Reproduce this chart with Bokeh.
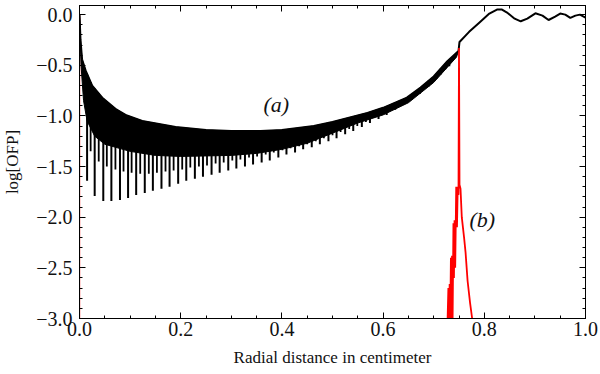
import numpy as np
from bokeh.plotting import figure
from bokeh.models import (Range1d, LinearAxis, SingleIntervalTicker, CustomJSTickFormatter, Label,
                          CustomLabelingPolicy)
from bokeh.embed import file_html
from bokeh.resources import INLINE

# ---- data ----
# upper envelope of curve (a)
env_x = [0.0, 0.002, 0.005, 0.012, 0.025, 0.045, 0.071, 0.091, 0.124, 0.157, 0.19, 0.25, 0.3,
         0.358, 0.4, 0.463, 0.5, 0.569, 0.6, 0.647, 0.674, 0.7, 0.727, 0.749, 0.751, 0.77, 0.79,
         0.81, 0.825, 0.835, 0.845, 0.86, 0.872, 0.885, 0.901, 0.915, 0.927, 0.94, 0.95, 0.96,
         0.97, 0.98, 0.989, 1.0]
env_y = [0.0, -0.25, -0.44, -0.55, -0.70, -0.82, -0.93, -0.99, -1.05, -1.08, -1.11, -1.14, -1.15,
         -1.15, -1.14, -1.10, -1.06, -0.97, -0.92, -0.82, -0.72, -0.61, -0.46, -0.36, -0.27, -0.17, -0.08,
         0.01, 0.05, 0.05, 0.02, -0.04, -0.066, -0.04, 0.013, -0.01, -0.053, -0.02, 0.01, 0.0,
         -0.033, -0.01, 0.0, -0.03]

# lower edge of the dense oscillation band of curve (a)
band_x = [0.003, 0.008, 0.015, 0.03, 0.05, 0.1, 0.15, 0.2, 0.3, 0.35, 0.4, 0.45, 0.5, 0.55,
          0.6, 0.65, 0.7, 0.745]
band_low = [-0.50, -0.85, -1.05, -1.20, -1.28, -1.35, -1.39, -1.40, -1.39, -1.37, -1.33, -1.27,
            -1.17, -1.07, -0.99, -0.87, -0.67, -0.42]

# deep minima of curve (a)
long_x = [0.015, 0.030, 0.047, 0.063, 0.080, 0.096, 0.112, 0.129, 0.145, 0.162, 0.178, 0.195,
          0.211, 0.228, 0.244, 0.261, 0.277, 0.294, 0.310, 0.327, 0.343, 0.360, 0.376, 0.393,
          0.409, 0.426, 0.442, 0.459, 0.475, 0.492, 0.508, 0.525, 0.541, 0.558, 0.574, 0.591,
          0.607, 0.624, 0.640, 0.657, 0.673, 0.690, 0.706, 0.723]
long_y = [-1.64, -1.79, -1.84, -1.84, -1.83, -1.81, -1.78, -1.76, -1.74, -1.72, -1.70, -1.67,
          -1.64, -1.62, -1.60, -1.58, -1.56, -1.54, -1.52, -1.50, -1.48, -1.46, -1.44, -1.41,
          -1.38, -1.36, -1.33, -1.31, -1.28, -1.25, -1.22, -1.18, -1.15, -1.11, -1.07, -1.03,
          -0.99, -0.94, -0.89, -0.84, -0.78, -0.71, -0.63, -0.54]
# intermediate minima of curve (a)
short_x = [0.022, 0.038, 0.054, 0.071, 0.087, 0.103, 0.120, 0.137, 0.153, 0.170, 0.186, 0.203,
           0.219, 0.236, 0.252, 0.269, 0.285, 0.302, 0.318, 0.335, 0.351, 0.368, 0.384, 0.401,
           0.417, 0.434, 0.450, 0.467, 0.483, 0.500, 0.516, 0.533, 0.549, 0.566, 0.582, 0.599,
           0.615, 0.632, 0.648, 0.665, 0.681, 0.698, 0.714, 0.731]
short_y = [-1.35, -1.45, -1.50, -1.53, -1.55, -1.56, -1.57, -1.57, -1.56, -1.55, -1.54, -1.53,
           -1.51, -1.50, -1.49, -1.47, -1.46, -1.44, -1.43, -1.41, -1.40, -1.38, -1.36, -1.34,
           -1.32, -1.30, -1.28, -1.25, -1.22, -1.19, -1.16, -1.13, -1.10, -1.06, -1.02, -0.98,
           -0.94, -0.89, -0.84, -0.79, -0.73, -0.67, -0.59, -0.51]

# curve (b)
red_x = [0.7270, 0.7290, 0.7300, 0.7315, 0.7325, 0.7340, 0.7350, 0.7362, 0.7372, 0.7390, 0.7400,
         0.7412, 0.7425, 0.7445, 0.7460, 0.7475, 0.7490, 0.7500, 0.7510, 0.7530, 0.7555, 0.7600,
         0.7630, 0.7670, 0.7720, 0.7760, 0.7780]
red_y = [-3.1, -2.70, -3.1, -2.66, -3.1, -2.40, -3.1, -2.38, -3.1, -2.06, -2.6,
         -2.03, -2.5, -1.70, -2.1, -1.70, -1.78, -0.33, -1.68, -1.72, -2.0, -2.2,
         -2.35, -2.63, -2.85, -3.0, -3.1]
red0_x = [0.0005, 0.0005]
red0_y = [0.0, -3.1]

FONT = "Liberation Serif"
TXT = "#111111"

p = figure(width=600, height=374, output_backend="svg", toolbar_location=None,
           x_range=Range1d(0, 1), y_range=Range1d(-3.0, 0.09),
           min_border_left=79, min_border_right=15, min_border_top=5, min_border_bottom=56,
           background_fill_color="white", border_fill_color="white")
p.grid.visible = False
p.outline_line_color = "black"
p.outline_line_width = 1

fmt = CustomJSTickFormatter(code="""
if (Math.abs(tick) < 1e-9) return '0.0';
return (tick < 0 ? '\u2212' : '') + Math.abs(tick).toFixed(1);
""")

hide_all = CustomLabelingPolicy(code="""
for (const i of Array.from(indices)) { indices.unset(i) }
return indices
""")

xt = SingleIntervalTicker(interval=0.2, num_minor_ticks=4)
yt = SingleIntervalTicker(interval=0.5, num_minor_ticks=5)

def style(ax, labels=True):
    ax.axis_line_color = "black"
    ax.major_tick_in = 6
    ax.major_tick_out = 0
    ax.minor_tick_in = 3
    ax.minor_tick_out = 0
    ax.major_tick_line_color = "black"
    ax.minor_tick_line_color = "black"
    if labels:
        ax.major_label_text_font = FONT
        ax.major_label_text_font_size = "20px"
        ax.major_label_text_color = TXT
        ax.axis_label_text_font = FONT
        ax.axis_label_text_font_size = "17px"
        ax.axis_label_text_font_style = "normal"
        ax.axis_label_text_color = TXT
        ax.formatter = fmt
    else:
        ax.major_label_text_font_size = "0px"
        ax.major_label_standoff = 0
        ax.major_label_policy = hide_all

p.xaxis.ticker = xt
p.yaxis.ticker = yt
style(p.xaxis[0])
style(p.yaxis[0])
p.xaxis.axis_label = "Radial distance in centimeter"
p.yaxis.axis_label = "log[OFP]"
p.xaxis.major_label_standoff = 3
p.xaxis.axis_label_standoff = 9
p.yaxis.major_label_standoff = 7
p.yaxis.axis_label_standoff = 11

top = LinearAxis(ticker=SingleIntervalTicker(interval=0.2, num_minor_ticks=4))
right = LinearAxis(ticker=SingleIntervalTicker(interval=0.5, num_minor_ticks=5))
style(top, labels=False)
style(right, labels=False)
p.add_layout(top, "above")
p.add_layout(right, "right")

# faint red trace along x = 0
p.line(red0_x, red0_y, line_color="red", line_alpha=0.35, line_width=1.5)

# dense band of curve (a)
ex = np.array(env_x); ey = np.array(env_y)
mask = ex <= 0.749
poly_x = list(ex[mask]) + list(band_x[::-1])
poly_y = list(ey[mask]) + list(band_low[::-1])
p.patch(poly_x, poly_y, fill_color="black", line_color="black", line_width=1)

# minima spikes
lx = np.array(long_x); sx = np.array(short_x)
p.segment(x0=lx, y0=np.interp(lx, ex, ey), x1=lx, y1=long_y, line_color="black", line_width=2.0)
p.segment(x0=sx, y0=np.interp(sx, ex, ey), x1=sx, y1=short_y, line_color="black", line_width=1.8)

# envelope line of curve (a)
p.line(env_x, env_y, line_color="black", line_width=2.0)

# curve (b)
p.line(red_x, red_y, line_color="red", line_width=1.8)

p.add_layout(Label(x=0.389, y=-0.89, text="(a)", text_font=FONT, text_font_size="22px",
                   text_font_style="italic", text_align="center", text_baseline="middle",
                   text_color=TXT))
p.add_layout(Label(x=0.796, y=-2.02, text="(b)", text_font=FONT, text_font_size="22px",
                   text_font_style="italic", text_align="center", text_baseline="middle",
                   text_color=TXT))

open("out.html", "w").write(file_html(p, INLINE))
